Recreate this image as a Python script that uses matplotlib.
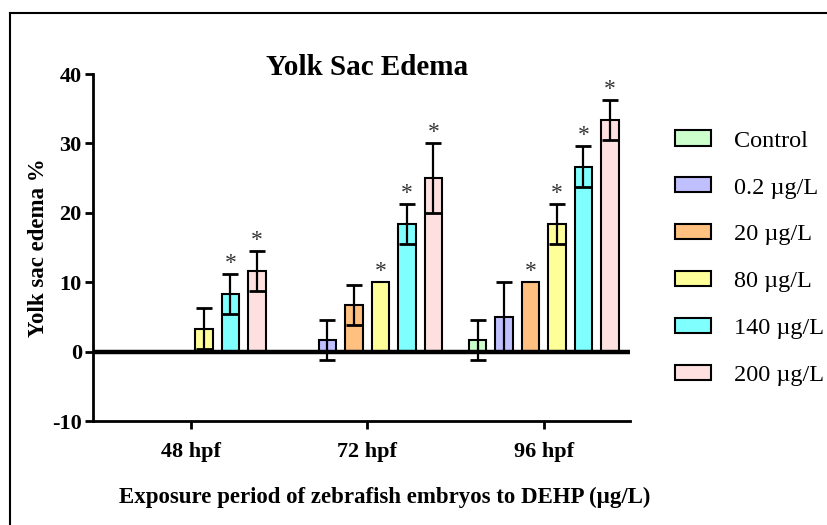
import matplotlib
matplotlib.use('Agg')
import matplotlib.pyplot as plt
from matplotlib.lines import Line2D
import numpy as np

plt.rcParams['font.family'] = ['Liberation Serif', 'DejaVu Serif']
plt.rcParams['axes.unicode_minus'] = False

GROUPS = ['48 hpf', '72 hpf', '96 hpf']
SERIES = ['Control', '0.2 µg/L', '20 µg/L', '80 µg/L', '140 µg/L', '200 µg/L']
COLORS = ['#ccffcc', '#c0c0ff', '#ffc080', '#ffff99', '#80ffff', '#ffe0e0']

# mean yolk sac edema % per series, one value per period
control = [0, 0, 1.67]
c0_2 = [0, 1.67, 5.0]
c20 = [0, 6.67, 10.0]
c80 = [3.33, 10.0, 18.33]
c140 = [8.33, 18.33, 26.67]
c200 = [11.67, 25.0, 33.33]

control_err = [0, 0, 2.89]
c0_2_err = [0, 2.89, 5.0]
c20_err = [0, 2.89, 0]
c80_err = [2.89, 0, 2.89]
c140_err = [2.89, 2.89, 2.89]
c200_err = [2.89, 5.0, 2.89]

# significance stars
control_sig = [False, False, False]
c0_2_sig = [False, False, False]
c20_sig = [False, False, True]
c80_sig = [False, True, True]
c140_sig = [True, True, True]
c200_sig = [True, True, True]

values = [control, c0_2, c20, c80, c140, c200]
errors = [control_err, c0_2_err, c20_err, c80_err, c140_err, c200_err]
sigs = [control_sig, c0_2_sig, c20_sig, c80_sig, c140_sig, c200_sig]

fig = plt.figure(figsize=(8.28, 5.25), dpi=100)
ax = fig.add_axes([0.1123, 0.198, 0.6487, 0.661])

x = np.arange(len(GROUPS))
step = 0.15
width = 0.1
handles = []
for i, (vals, errs, sig) in enumerate(zip(values, errors, sigs)):
    pos = x + (i - 2.5) * step
    b = ax.bar(pos, vals, width, color=COLORS[i], edgecolor='black',
               linewidth=1.5, label=SERIES[i], zorder=2)
    handles.append(b)
    for p, v, e, s in zip(pos, vals, errs, sig):
        if e > 0:
            ax.errorbar(p, v, yerr=e, fmt='none', ecolor='black',
                        elinewidth=1.6, capsize=6, capthick=2, zorder=3)
        if s:
            ax.annotate('*', (p, v + e), xytext=(0, 0), textcoords='offset points',
                        ha='center', va='bottom', fontsize=17, color='#333333')

ax.axhline(0, color='black', linewidth=3.2, zorder=4)

ax.set_xlim(-0.553, 2.489)
ax.set_ylim(-10, 40)
ax.set_yticks([-10, 0, 10, 20, 30, 40])
ax.set_xticks(x)
ax.set_xticklabels(GROUPS)
for sp in ['top', 'right']:
    ax.spines[sp].set_visible(False)
for sp in ['left', 'bottom']:
    ax.spines[sp].set_linewidth(2)
ax.tick_params(axis='both', length=6, width=2, labelsize=16)
ax.tick_params(axis='x', pad=9)
ax.tick_params(axis='y', pad=2)
for lab in ax.get_xticklabels() + ax.get_yticklabels():
    lab.set_fontweight('bold')

ax.set_ylabel('Yolk sac edema %', fontsize=16.5, fontweight='bold', labelpad=2.5)
fig.text(0.465, 0.053, 'Exposure period of zebrafish embryos to DEHP (µg/L)',
         ha='center', va='center', fontsize=16.5, fontweight='bold')
fig.text(0.443, 0.872, 'Yolk Sac Edema', ha='center', va='center',
         fontsize=21, fontweight='bold')

fig.legend(handles=handles, labels=SERIES, loc='center left',
           bbox_to_anchor=(0.815, 0.508), frameon=False, fontsize=17.5,
           handlelength=1.48, handleheight=0.58, handletextpad=0.95,
           labelspacing=1.06, borderpad=0, borderaxespad=0)

# outer frame lines (top and left)
fig.add_artist(Line2D([0.0121, 1.0], [0.975, 0.975], color='black', lw=1.5,
                      transform=fig.transFigure))
fig.add_artist(Line2D([0.0121, 0.0121], [0.0, 0.975], color='black', lw=1.5,
                      transform=fig.transFigure))

fig.savefig('out.png', dpi=100)
